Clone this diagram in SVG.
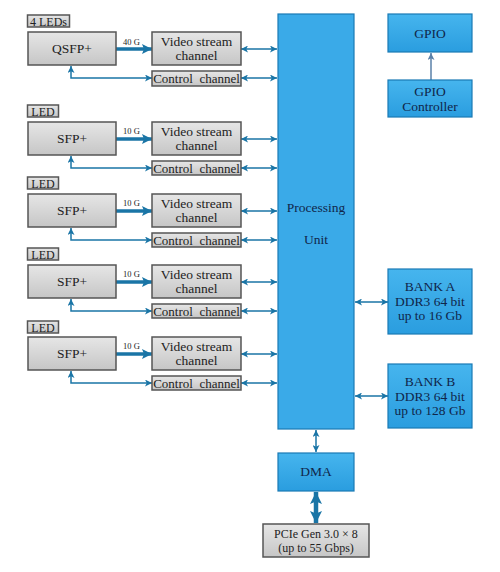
<svg xmlns="http://www.w3.org/2000/svg" width="500" height="572" viewBox="0 0 500 572" font-family="Liberation Serif, DejaVu Serif, serif">
<defs>
<linearGradient id="gg" x1="0" y1="0" x2="0" y2="1"><stop offset="0" stop-color="#e6e6e6"/><stop offset="1" stop-color="#c6c6c6"/></linearGradient>
<linearGradient id="bg" x1="0" y1="0" x2="0" y2="1"><stop offset="0" stop-color="#46b5ee"/><stop offset="1" stop-color="#2a9ddf"/></linearGradient>
<marker id="a" viewBox="0 0 10 10" refX="10" refY="5" markerWidth="8" markerHeight="7" markerUnits="userSpaceOnUse" orient="auto-start-reverse"><path d="M0,0 L10,5 L0,10 L2.5,5 z" fill="#1a75a6"/></marker>
<marker id="ab" viewBox="0 0 10 10" refX="10" refY="5" markerWidth="11" markerHeight="10" markerUnits="userSpaceOnUse" orient="auto-start-reverse"><path d="M0,0 L10,5 L0,10 L2,5 z" fill="#1a75a6"/></marker>
<marker id="ap" viewBox="0 0 10 10" refX="10" refY="5" markerWidth="12" markerHeight="13" markerUnits="userSpaceOnUse" orient="auto-start-reverse"><path d="M0,0 L10,5 L0,10 L2,5 z" fill="#1a75a6"/></marker>
<marker id="ag" viewBox="0 0 10 10" refX="10" refY="5" markerWidth="8" markerHeight="7" markerUnits="userSpaceOnUse" orient="auto"><path d="M0,0 L10,5 L0,10 L2.5,5 z" fill="#5a80a8"/></marker>
</defs>
<style>
.g{fill:url(#gg);stroke:#555;stroke-width:1.5}
.b{fill:url(#bg);stroke:#1a7ab5;stroke-width:1.2}
.t{font-size:13.5px;fill:#222;text-anchor:middle}
.cc{font-size:13px;fill:#222;text-anchor:middle}
.l{font-size:12px;fill:#222;text-anchor:middle}
.bt{font-size:13.5px;fill:#10264a;text-anchor:middle}
.s{font-size:8.5px;fill:#222}
.c{fill:none;stroke:#1a75a6;stroke-width:1.5}
.k{fill:none;stroke:#1a75a6;stroke-width:3.5}
</style>

<g id="connectors">
<line class="k" x1="116" y1="49" x2="152" y2="49" marker-end="url(#ab)"/>
<path class="c" d="M71,66 V78 H152" marker-start="url(#a)" marker-end="url(#a)"/>
<line class="c" x1="241" y1="49" x2="277" y2="49" marker-start="url(#a)" marker-end="url(#a)"/>
<line class="c" x1="241" y1="78" x2="277" y2="78" marker-start="url(#a)" marker-end="url(#a)"/>
<line class="k" x1="116" y1="139" x2="152" y2="139" marker-end="url(#ab)"/>
<path class="c" d="M71,156 V168 H152" marker-start="url(#a)" marker-end="url(#a)"/>
<line class="c" x1="241" y1="139" x2="277" y2="139" marker-start="url(#a)" marker-end="url(#a)"/>
<line class="c" x1="241" y1="168" x2="277" y2="168" marker-start="url(#a)" marker-end="url(#a)"/>
<line class="k" x1="116" y1="211" x2="152" y2="211" marker-end="url(#ab)"/>
<path class="c" d="M71,228 V240 H152" marker-start="url(#a)" marker-end="url(#a)"/>
<line class="c" x1="241" y1="211" x2="277" y2="211" marker-start="url(#a)" marker-end="url(#a)"/>
<line class="c" x1="241" y1="240" x2="277" y2="240" marker-start="url(#a)" marker-end="url(#a)"/>
<line class="k" x1="116" y1="282" x2="152" y2="282" marker-end="url(#ab)"/>
<path class="c" d="M71,299 V311 H152" marker-start="url(#a)" marker-end="url(#a)"/>
<line class="c" x1="241" y1="282" x2="277" y2="282" marker-start="url(#a)" marker-end="url(#a)"/>
<line class="c" x1="241" y1="311" x2="277" y2="311" marker-start="url(#a)" marker-end="url(#a)"/>
<line class="k" x1="116" y1="354" x2="152" y2="354" marker-end="url(#ab)"/>
<path class="c" d="M71,371 V383 H152" marker-start="url(#a)" marker-end="url(#a)"/>
<line class="c" x1="241" y1="354" x2="277" y2="354" marker-start="url(#a)" marker-end="url(#a)"/>
<line class="c" x1="241" y1="383" x2="277" y2="383" marker-start="url(#a)" marker-end="url(#a)"/>
<line class="c" x1="355" y1="302" x2="388" y2="302" marker-start="url(#a)" marker-end="url(#a)"/>
<line class="c" x1="355" y1="396" x2="388" y2="396" marker-start="url(#a)" marker-end="url(#a)"/>
<line class="c" x1="316" y1="430" x2="316" y2="452" marker-start="url(#a)" marker-end="url(#a)"/>
<line class="c" style="stroke-width:4.5" x1="316" y1="492" x2="316" y2="523" marker-start="url(#ap)" marker-end="url(#ap)"/>
<line x1="431" y1="80" x2="431" y2="53" stroke="#5a80a8" stroke-width="1.5" marker-end="url(#ag)"/>
<text class="s" x="123" y="45">40 G</text>
<text class="s" x="123" y="134">10 G</text>
<text class="s" x="123" y="206">10 G</text>
<text class="s" x="123" y="277">10 G</text>
<text class="s" x="123" y="349">10 G</text>
</g>

<g id="row0">
<rect class="g" x="27.5" y="15" width="42" height="12"/><text class="l" x="48.5" y="25.5">4 LEDs</text>
<rect class="g" x="28" y="32" width="88" height="33"/><text class="t" x="72" y="53">QSFP+</text>
<rect class="g" x="152" y="32" width="89" height="33"/><text class="t" x="196.5" y="46">Video stream</text><text class="t" x="196.5" y="60">channel</text>
<rect class="g" x="152" y="71" width="89" height="15"/><text class="cc" x="196.5" y="83" xml:space="preserve">Control  channel</text>
</g>
<g id="row1">
<rect class="g" x="27.5" y="105" width="31" height="12"/><text class="l" x="43" y="115.5">LED</text>
<rect class="g" x="28" y="122" width="88" height="33"/><text class="t" x="72" y="143">SFP+</text>
<rect class="g" x="152" y="122" width="89" height="33"/><text class="t" x="196.5" y="136">Video stream</text><text class="t" x="196.5" y="150">channel</text>
<rect class="g" x="152" y="161" width="89" height="14"/><text class="cc" x="196.5" y="172.5" xml:space="preserve">Control  channel</text>
</g>
<g id="row2">
<rect class="g" x="27.5" y="177" width="31" height="12"/><text class="l" x="43" y="187.5">LED</text>
<rect class="g" x="28" y="194" width="88" height="33"/><text class="t" x="72" y="215">SFP+</text>
<rect class="g" x="152" y="194" width="89" height="33"/><text class="t" x="196.5" y="208">Video stream</text><text class="t" x="196.5" y="222">channel</text>
<rect class="g" x="152" y="233" width="89" height="14"/><text class="cc" x="196.5" y="244.5" xml:space="preserve">Control  channel</text>
</g>
<g id="row3">
<rect class="g" x="27.5" y="248" width="31" height="12"/><text class="l" x="43" y="258.5">LED</text>
<rect class="g" x="28" y="265" width="88" height="33"/><text class="t" x="72" y="286">SFP+</text>
<rect class="g" x="152" y="265" width="89" height="33"/><text class="t" x="196.5" y="279">Video stream</text><text class="t" x="196.5" y="293">channel</text>
<rect class="g" x="152" y="304" width="89" height="14"/><text class="cc" x="196.5" y="315.5" xml:space="preserve">Control  channel</text>
</g>
<g id="row4">
<rect class="g" x="27.5" y="321" width="31" height="12"/><text class="l" x="43" y="331.5">LED</text>
<rect class="g" x="28" y="337" width="88" height="33"/><text class="t" x="72" y="358">SFP+</text>
<rect class="g" x="152" y="337" width="89" height="33"/><text class="t" x="196.5" y="351">Video stream</text><text class="t" x="196.5" y="365">channel</text>
<rect class="g" x="152" y="376" width="89" height="14"/><text class="cc" x="196.5" y="387.5" xml:space="preserve">Control  channel</text>
</g>

<g id="processing-unit">
<rect x="278" y="14" width="76" height="415" fill="#3aaae8" stroke="#1a7ab5" stroke-width="1.2"/>
<text class="bt" x="316" y="212">Processing</text>
<text class="bt" x="316" y="244">Unit</text>
</g>
<g id="gpio">
<rect class="b" x="388" y="14" width="84" height="38"/><text class="bt" x="430" y="38">GPIO</text>
</g>
<g id="gpio-controller">
<rect class="b" x="388" y="80" width="84" height="37"/><text class="bt" x="430" y="96">GPIO</text><text class="bt" x="430" y="111">Controller</text>
</g>
<g id="bank-a">
<rect class="b" x="388" y="269" width="84" height="65"/>
<text class="bt" x="430" y="291">BANK A</text><text class="bt" x="430" y="306">DDR3 64 bit</text><text class="bt" x="430" y="320">up to 16 Gb</text>
</g>
<g id="bank-b">
<rect class="b" x="388" y="364" width="84" height="64"/>
<text class="bt" x="430" y="386">BANK B</text><text class="bt" x="430" y="401">DDR3 64 bit</text><text class="bt" x="430" y="415">up to 128 Gb</text>
</g>
<g id="dma">
<rect class="b" x="278" y="453" width="76" height="38"/><text class="bt" x="316" y="476">DMA</text>
</g>
<g id="pcie">
<rect class="g" x="263" y="524" width="106" height="33"/>
<text class="t" style="font-size:12px" x="316" y="538">PCIe Gen 3.0 × 8</text>
<text class="t" style="font-size:12px" x="316" y="552">(up to 55 Gbps)</text>
</g>
</svg>
